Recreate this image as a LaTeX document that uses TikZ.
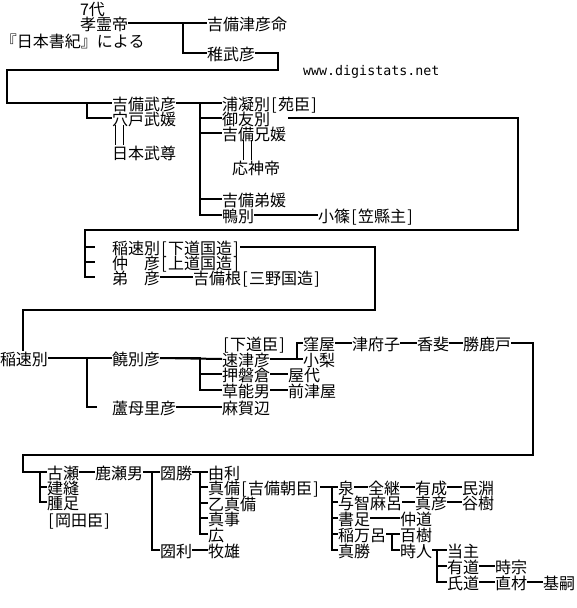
\documentclass[tikz,border=0pt]{standalone}
\usepackage{fontspec}
\newfontfamily\jp{Noto Sans CJK JP}
\newfontfamily\monof{DejaVu Sans Mono}
\newcommand\lbk{\makebox[8pt][c]{[}}
\newcommand\rbk{\makebox[8pt][c]{]}}
\begin{document}
\begin{tikzpicture}[x=1pt,y=-1pt,
  n/.style={anchor=west,inner sep=0pt,outer sep=0pt,font=\jp\fontsize{16pt}{16pt}\selectfont,text height=14pt,text depth=0pt},
  ln/.style={line width=2pt,line join=miter},
  mar/.style={line width=1pt}]
\useasboundingbox[fill=white] (0,0) rectangle (576,608);
% --- generation 1
\node[n] (a1) at (80,8) {7代};
\node[n] (a2) at (80,23) {孝霊帝};
\node[n] (a3) at (1,40) {『日本書紀』による};
\node[n] (b1) at (207,23) {吉備津彦命};
\node[n] (b2) at (207,53) {稚武彦};
\node[anchor=base west,inner sep=0pt,font=\monof\fontsize{13.3pt}{14pt}\selectfont] (url) at (303,75) {www.digistats.net};
% --- generation 2
\node[n] (c1) at (112,103) {吉備武彦};
\node[n] (c2) at (112,118) {穴戸武媛};
\node[n] (c3) at (112,152) {日本武尊};
\node[n] (d1) at (222,103) {浦凝別\lbk 苑臣\rbk};
\node[n] (d2) at (222,118) {御友別};
\node[n] (d3) at (222,133) {吉備兄媛};
\node[n] (d4) at (232,167) {応神帝};
\node[n] (d5) at (222,199) {吉備弟媛};
\node[n] (d6) at (222,215) {鴨別};
\node[n] (d7) at (318,215) {小篠\lbk 笠縣主\rbk};
% --- generation 3
\node[n] (e1) at (112,247) {稲速別\lbk 下道国造\rbk};
\node[n] (e2) at (112,262) {仲　彦\lbk 上道国造\rbk};
\node[n] (e3) at (112,277) {弟　彦};
\node[n] (e4) at (193,277) {吉備根\lbk 三野国造\rbk};
% --- generation 4
\node[n] (f1) at (0,358) {稲速別};
\node[n] (f2) at (112,358) {饒別彦};
\node[n] (f3) at (112,407) {蘆母里彦};
\node[n] (f4) at (222,343) {\lbk 下道臣\rbk};
\node[n] (f5) at (222,359) {速津彦};
\node[n] (f6) at (222,374) {押磐倉};
\node[n] (f7) at (222,390) {草能男};
\node[n] (f8) at (222,407) {麻賀辺};
\node[n] (g1) at (303,343) {窪屋};
\node[n] (g2) at (303,359) {小梨};
\node[n] (g3) at (288,374) {屋代};
\node[n] (g4) at (288,390) {前津屋};
\node[n] (g5) at (352,343) {津府子};
\node[n] (g6) at (417,343) {香斐};
\node[n] (g7) at (463,343) {勝鹿戸};
% --- generation 5
\node[n] (h1) at (47,472) {古瀬};
\node[n] (h2) at (47,487) {建縫};
\node[n] (h3) at (47,502) {腫足};
\node[n] (h4) at (47,519) {\lbk 岡田臣\rbk};
\node[n] (h5) at (95,472) {鹿瀬男};
\node[n] (h6) at (160,472) {圀勝};
\node[n] (h7) at (160,550) {圀利};
\node[n] (i1) at (208,472) {由利};
\node[n] (i2) at (208,487) {真備\lbk 吉備朝臣\rbk};
\node[n] (i3) at (208,503) {乙真備};
\node[n] (i4) at (208,518) {真事};
\node[n] (i5) at (208,534) {広};
\node[n] (i6) at (208,550) {牧雄};
\node[n] (j1) at (338,487) {泉};
\node[n] (j2) at (338,502) {与智麻呂};
\node[n] (j3) at (338,518) {書足};
\node[n] (j4) at (338,534) {稲万呂};
\node[n] (j5) at (338,550) {真勝};
\node[n] (k1) at (368,487) {全継};
\node[n] (k2) at (415,487) {有成};
\node[n] (k3) at (462,487) {民淵};
\node[n] (k4) at (415,502) {真彦};
\node[n] (k5) at (462,502) {谷樹};
\node[n] (k6) at (400,518) {仲道};
\node[n] (k7) at (400,534) {百樹};
\node[n] (k8) at (400,550) {時人};
\node[n] (l1) at (447,550) {当主};
\node[n] (l2) at (447,566) {有道};
\node[n] (l3) at (447,582) {氏道};
\node[n] (l4) at (495,566) {時宗};
\node[n] (l5) at (495,582) {直材};
\node[n] (l6) at (543,582) {基嗣};
% --- connectors
\begin{scope}[ln]
\draw (a2.east) -- (b1.west);
\draw (b2.west) -- ++(-24,0) |- (a2.east);
\draw (b2.east) -| (278,70) -| (7,103) -- (c1.west);
\draw (c2.west) -- ++(-25,0) |- (c1.west);
\draw (c1.east) -- (d1.west);
\draw (d6.west) -- ++(-22,0) |- (c1.east);
\draw (d2.west) -- ++(-22,0);
\draw (d3.west) -- ++(-22,0);
\draw (d5.west) -- ++(-22,0);
\draw (d6.east) -- (d7.west);
\draw (d2.east) ++(18,0) -| (518,230) -| ([xshift=-27pt]e3.west) -- ([xshift=-17pt]e3.west);
\draw ([xshift=-27pt]e1.west) -- ([xshift=-17pt]e1.west);
\draw ([xshift=-27pt]e2.west) -- ([xshift=-17pt]e2.west);
\draw (e1.east) -| (375,310) -| ([xshift=23pt]f1.north west);
\draw (e3.east) -- (e4.west);
\draw (f1.east) -- (f2.west);
\draw ([xshift=-15pt]f3.west) -- ++(-10,0) |- (f1.east);
\draw (f2.east) -- (f5.west);
\draw (f7.west) -- ++(-22,0) |- (f2.east);
\draw (f6.west) -- ++(-22,0);
\draw (f3.east) -- (f8.west);
\draw (f5.east) -| ([xshift=-6pt]g1.west) -- (g1.west);
\draw (g2.west) -- ++(-7,0);
\draw (f6.east) -- (g3.west);
\draw (f7.east) -- (g4.west);
\draw (g1.east) -- (g5.west);
\draw (g5.east) -- (g6.west);
\draw (g6.east) -- (g7.west);
\draw (g7.east) -| (533,455) -| (23,472) -- (h1.west);
\draw (h3.west) -- ++(-7,0) |- (h1.west);
\draw (h2.west) -- ++(-7,0);
\draw (h1.east) -- (h5.west);
\draw (h5.east) -- (h6.west);
\draw (h7.west) -- ++(-8,0) |- (h6.west);
\draw (h6.east) -- (i1.west);
\draw (i5.west) -- ++(-8,0) |- (i1.west);
\draw (i2.west) -- ++(-8,0);
\draw (i3.west) -- ++(-8,0);
\draw (i4.west) -- ++(-8,0);
\draw (h7.east) -- (i6.west);
\draw (i2.east) -- (j1.west);
\draw (j5.west) -- ++(-6,0) |- (j1.west);
\draw (j2.west) -- ++(-6,0);
\draw (j3.west) -- ++(-6,0);
\draw (j4.west) -- ++(-6,0);
\draw (j1.east) -- (k1.west);
\draw (k1.east) -- (k2.west);
\draw (k2.east) -- (k3.west);
\draw (j2.east) -- (k4.west);
\draw (k4.east) -- (k5.west);
\draw (j3.east) -- (k6.west);
\draw (j4.east) -- (k7.west);
\draw (k8.west) -- ++(-8,0) |- (k7.west);
\draw (k8.east) -- (l1.west);
\draw (l3.west) -- ++(-10,0) |- (l1.west);
\draw (l2.west) -- ++(-10,0);
\draw (l2.east) -- (l4.west);
\draw (l3.east) -- (l5.west);
\draw (l5.east) -- (l6.west);
\end{scope}
% marriage marks
\draw[mar] ([xshift=3.5pt]c2.south west) -- ([xshift=3.5pt]c3.north west);
\draw[mar] ([xshift=11pt]c2.south west) -- ([xshift=11pt]c3.north west);
\draw[mar] ([xshift=21pt]d3.south west) -- ([xshift=11pt]d4.north west);
\draw[mar] ([xshift=29pt]d3.south west) -- ([xshift=19pt]d4.north west);
\end{tikzpicture}
\end{document}
